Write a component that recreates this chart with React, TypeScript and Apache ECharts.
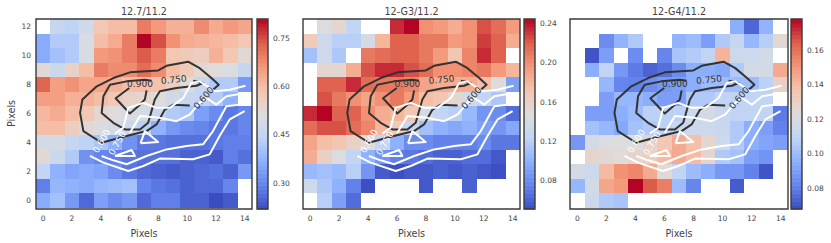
import React, { useEffect, useRef } from "react";
import * as echarts from "echarts";

type N = number | null;
const _ = null;
const titles = ["12.7/11.2", "12-G3/11.2", "12-G4/11.2"];
const xTicks = [0, 2, 4, 6, 8, 10, 12, 14];
const yTicks = [0, 2, 4, 6, 8, 10, 12];
const ranges = [[0.22, 0.81], [0.0506, 0.245], [0.068, 0.178]];
const barTicks = [[0.3, 0.45, 0.6, 0.75], [0.08, 0.12, 0.16, 0.2, 0.24], [0.08, 0.1, 0.12, 0.14, 0.16]];

// rows listed from y = 12 (top) to y = 0 (bottom)
const panelA: N[][] = [
  [_, .46, .44, .48, .58, .60, .60, .70, .66, .62, .62, .68, .63, .66, .64],
  [.36, .42, .42, .50, .60, .63, .70, .81, .75, .67, .63, .62, .61, .60, .58],
  [.36, .40, .42, .50, .66, .67, .70, .74, .70, .58, .57, .56, .62, .58, .53],
  [.53, .47, .55, .60, .70, .68, .68, .72, .68, .60, .57, .53, .52, .51, .46],
  [.73, .65, .67, .64, .64, .62, .60, .60, .59, .56, .52, .46, .42, .42, .33],
  [.65, .65, .62, .62, .60, .58, .55, .54, .52, .48, .46, .45, .42, .37, _],
  [.61, .63, .60, .58, .54, .52, .50, .49, .46, .42, .41, .34, .31, .28, .30],
  [.60, .60, .56, .53, .51, .49, .47, .43, .37, .33, .31, .30, .28, .28, .30],
  [.49, .49, .46, .44, .41, .37, .32, .28, .28, .27, .27, .27, .28, .29, .29],
  [.53, .47, .42, .32, .30, .29, .28, .27, .27, .27, .25, .25, .24, .29, .27],
  [.45, .37, .35, .36, .35, .31, .28, .26, .25, .24, .25, .26, .27, .25, .33],
  [.29, .38, .37, .36, .38, .39, .40, .30, .28, .27, .25, .26, .26, .30, _],
  [.36, .40, .33, .26, .34, .31, .33, .26, .29, .29, .25, .25, .22, .24, _],
];
const panelB: N[][] = [
  [_, .145, .155, .125, _, _, .235, .245, .20, .195, .185, .20, .225, .215, .195],
  [.165, .135, .12, .12, .14, .18, .22, .22, .21, .21, .195, .20, .23, .22, .185],
  [.11, .135, .115, _, .21, .215, .22, .22, .21, .195, .17, .205, .235, .22, _],
  [_, .155, .155, .185, .225, .235, .235, .225, .215, .20, .20, .205, .21, .195, .18],
  [_, .22, .22, .235, .215, .21, .21, .205, .19, .185, .185, .185, .175, .15, .09],
  [_, .225, .21, .20, .19, .20, .21, .195, .175, .17, .155, .14, .125, .115, _],
  [.235, .245, .22, .22, .20, .185, .18, .17, .14, .125, .12, .105, .085, .08, .065],
  [.215, .225, .225, .215, .205, .18, .165, .13, .11, .10, .095, .10, .09, .085, .095],
  [.19, .175, .17, .16, .15, .125, .10, .08, .08, .075, .075, .075, .08, .07, .07],
  [.185, .16, .145, .125, .10, .085, .075, .07, .065, .06, .06, .065, .065, .056, _],
  [.105, .11, .105, .12, .085, .057, .052, .056, .056, .06, .056, .06, .056, .052, _],
  [.135, .115, .10, .075, .052, _, _, _, .056, _, _, .06, _, _, _],
  [_, .12, .09, .065, _, _, _, _, _, _, _, _, _, _, _],
];
const panelC: N[][] = [
  [_, _, _, _, _, _, _, _, _, _, _, .095, .075, .097, _],
  [_, _, .085, .097, .105, _, _, .097, .10, .09, .105, .112, .098, .107, .126],
  [_, .07, .09, _, .085, _, .083, .103, .106, .11, .142, .115, .115, .118, _],
  [_, .095, .11, .088, .08, .074, .077, .085, .095, .095, .093, .105, .118, .118, .145],
  [_, _, .098, .083, .082, .085, .088, .09, .095, .10, .10, .10, .10, .108, .13],
  [_, _, .09, .098, .098, .095, .09, .09, .105, .105, .11, .11, .11, .11, _],
  [_, .09, .09, .095, .10, .108, .108, .108, .115, .118, .112, .11, .11, .11, .08],
  [_, .102, .098, .093, .102, .105, .108, .113, .115, .115, .113, .105, .095, .09, .082],
  [.088, .118, .122, .123, .123, .128, .135, .145, .138, .127, .115, .105, .095, .092, .09],
  [_, .128, .126, .124, .128, .13, .14, .145, .14, .128, .105, .102, .09, .087, _],
  [.118, .115, .14, .152, .155, .145, .125, .11, .10, .095, .088, .088, .082, .07, _],
  [.098, .118, .146, .15, .178, .165, .157, .10, .083, _, _, .072, _, _, _],
  [_, .115, .105, .103, _, _, _, _, _, _, _, _, _, _, _],
];
const panels = [panelA, panelB, panelC];

// contours (x, y in pixels of the map)
const blackOuter = [[11.79, 7.64], [12.19, 7.98], [11.68, 8.44], [10.87, 9.12], [10.06, 9.56], [8.56, 9.28], [7.99, 8.96], [6.02, 8.83], [4.87, 8.44], [3.72, 7.87], [2.72, 6.96], [2.56, 6.04], [2.79, 4.79], [4.06, 3.99], [5.56, 4.40], [7.18, 4.79], [7.87, 5.25], [8.45, 6.27], [9.02, 6.61], [10.18, 6.55]];
const blackMiddle = [[7.52, 8.26], [7.06, 8.32], [5.79, 8.21], [4.64, 7.98], [4.18, 7.18], [4.06, 6.04], [4.87, 5.36], [5.68, 4.90], [6.72, 4.90], [7.29, 5.36], [7.75, 6.96], [8.10, 7.53], [9.25, 7.75], [10.64, 7.91], [11.10, 8.10], [10.41, 8.26]];
const blackInner = [[5.98, 7.75], [5.03, 7.05], [6.02, 6.00], [6.60, 6.50], [7.06, 6.96], [7.18, 7.59]];
const whiteUpper = [[4.98, 4.61], [5.56, 5.02], [5.91, 6.39], [6.95, 6.73], [7.87, 6.39], [8.79, 6.39], [9.72, 7.07], [10.29, 8.10], [10.87, 8.21], [11.91, 7.53], [12.95, 7.64], [14.05, 7.91]];
const whiteSecond = [[6.02, 4.67], [6.72, 5.82], [8.10, 5.70], [9.25, 5.47], [10.18, 5.93], [10.87, 6.73], [11.33, 7.07], [12.02, 6.61], [12.72, 7.18], [14.05, 7.41]];
const whiteLowerOuter = [[3.25, 3.08], [4.18, 2.62], [5.91, 2.05], [6.95, 2.39], [8.10, 2.90], [10.41, 2.85], [11.56, 3.19], [12.25, 4.45], [12.95, 5.59], [13.99, 6.16]];
const whiteLowerInner = [[4.06, 3.08], [4.87, 2.78], [5.79, 2.51], [7.18, 3.08], [8.56, 3.53], [9.95, 3.76], [11.10, 3.88], [11.79, 4.79], [12.72, 6.50], [13.64, 6.61]];
const whiteTriA = [[6.76, 3.95], [7.06, 4.79], [7.98, 4.04], [6.76, 3.95]];
const whiteTriB = [[4.98, 3.08], [6.14, 3.49], [6.37, 3.08], [4.98, 3.08]];
const blackLines = [blackOuter, blackMiddle, blackInner];
const whiteLines = [whiteUpper, whiteSecond, whiteLowerOuter, whiteLowerInner, whiteTriA, whiteTriB];
// x, y, text, angle in degrees, colour
const contourLabels: [number, number, string, number, string][] = [
  [6.72, 8.05, "0.900", 0, "#333333"],
  [9.07, 8.32, "0.750", 6, "#333333"],
  [11.15, 7.07, "0.600", 50, "#333333"],
  [4.06, 4.10, "0.600", 60, "#ffffff"],
  [5.15, 3.95, "0.750", 60, "#ffffff"],
];

const cool: [number, number[]][] = [
  [0, [59, 76, 192]], [0.125, [98, 130, 234]], [0.25, [141, 176, 254]], [0.375, [192, 212, 245]], [0.5, [221, 221, 221]],
  [0.625, [245, 196, 173]], [0.75, [244, 152, 122]], [0.875, [222, 97, 77]], [1, [180, 4, 38]],
];
function coolwarm(t: number) {
  const v = Math.max(0, Math.min(1, t));
  for (let i = 1; i < cool.length; i++) {
    if (v <= cool[i][0]) {
      const [a, ca] = cool[i - 1];
      const [b, cb] = cool[i];
      const f = (v - a) / (b - a);
      return `rgb(${ca.map((c, k) => Math.round(c + (cb[k] - c) * f)).join(",")})`;
    }
  }
  return "rgb(180,4,38)";
}

const mapBoxes = [
  { left: 36, width: 216 },
  { left: 303, width: 217 },
  { left: 570, width: 218 },
];
const barBoxes = [
  { left: 257, width: 11 },
  { left: 524, width: 11 },
  { left: 791, width: 11 },
];
const TOP = 19;
const HEIGHT = 190;
const FONT = "DejaVu Sans";
const TEXT = "#444444";
const LEVELS = 48;

function buildOption() {
  const grid: any[] = [], xAxis: any[] = [], yAxis: any[] = [], series: any[] = [], title: any[] = [], graphic: any[] = [];
  panels.forEach((rows, p) => {
    const [lo, hi] = ranges[p];
    const g = p * 2;
    grid.push({ left: mapBoxes[p].left, width: mapBoxes[p].width, top: TOP, height: HEIGHT });
    grid.push({ left: barBoxes[p].left, width: barBoxes[p].width, top: TOP, height: HEIGHT });
    title.push({
      text: titles[p], left: mapBoxes[p].left + mapBoxes[p].width / 2, top: 6, padding: 0, textAlign: "center",
      textStyle: { fontFamily: FONT, fontSize: 9.6, fontWeight: "normal", color: TEXT },
    });
    xAxis.push({
      gridIndex: g, type: "value", min: -0.5, max: 14.5, name: "Pixels", nameLocation: "middle", nameGap: 20,
      nameTextStyle: { fontFamily: FONT, fontSize: 9.6, color: TEXT },
      axisLine: { show: false }, axisTick: { show: false }, splitLine: { show: false },
      axisLabel: { customValues: xTicks, fontFamily: FONT, fontSize: 7.5, color: TEXT, margin: 6 },
    });
    yAxis.push({
      gridIndex: g, type: "value", min: -0.5, max: 12.5,
      name: p === 0 ? "Pixels" : "", nameLocation: "middle", nameGap: 20,
      nameTextStyle: { fontFamily: FONT, fontSize: 9.6, color: TEXT },
      axisLine: { show: false }, axisTick: { show: false }, splitLine: { show: false },
      axisLabel: p === 0
        ? { customValues: yTicks, fontFamily: FONT, fontSize: 7.5, color: TEXT, margin: 5 }
        : { show: false },
    });
    xAxis.push({ gridIndex: g + 1, type: "value", min: 0, max: 1, show: false });
    yAxis.push({
      gridIndex: g + 1, type: "value", position: "right", min: lo, max: hi,
      axisLine: { show: false }, axisTick: { show: false }, splitLine: { show: false },
      axisLabel: {
        customValues: barTicks[p], fontFamily: FONT, fontSize: 7.5, color: TEXT, margin: 5,
        formatter: (v: number) => v.toFixed(2),
      },
    });

    const cells: number[][] = [];
    rows.forEach((row, r) => row.forEach((v, x) => { if (v !== null) cells.push([x, 12 - r, v]); }));
    series.push({
      type: "custom", xAxisIndex: g, yAxisIndex: g, data: cells, silent: true, z: 1, clip: true,
      encode: { x: 0, y: 1 },
      renderItem: (_p: any, api: any) => {
        const x = api.value(0), y = api.value(1), v = api.value(2);
        const a = api.coord([x - 0.5, y + 0.5]);
        const b = api.coord([x + 0.5, y - 0.5]);
        const x0 = Math.round(a[0]), y0 = Math.round(a[1]);
        return {
          type: "rect", shape: { x: x0, y: y0, width: Math.round(b[0]) - x0, height: Math.round(b[1]) - y0 },
          style: { fill: coolwarm((v - lo) / (hi - lo)), stroke: null },
        };
      },
    });

    const levelData: number[][] = [];
    for (let i = 0; i < LEVELS; i++) levelData.push([lo + ((hi - lo) * i) / LEVELS, lo + ((hi - lo) * (i + 1)) / LEVELS]);
    series.push({
      type: "custom", xAxisIndex: g + 1, yAxisIndex: g + 1, data: levelData, silent: true, z: 1,
      encode: { y: [0, 1] },
      renderItem: (_p: any, api: any) => {
        const a = api.coord([0, api.value(1)]);
        const b = api.coord([1, api.value(0)]);
        const mid = (api.value(0) + api.value(1)) / 2;
        return {
          type: "rect", shape: { x: a[0], y: a[1], width: b[0] - a[0], height: b[1] - a[1] + 0.5 },
          style: { fill: coolwarm((mid - lo) / (hi - lo)), stroke: null },
        };
      },
    });

    const addLines = (lines: number[][][], color: string) =>
      lines.forEach((d) =>
        series.push({
          type: "line", xAxisIndex: g, yAxisIndex: g, data: d, showSymbol: false, symbol: "none", silent: true, z: 3,
          lineStyle: { color, width: 2, join: "round" }, clip: true,
        }),
      );
    addLines(blackLines, "#333333");
    addLines(whiteLines, "#ffffff");

    series.push({
      type: "custom", xAxisIndex: g, yAxisIndex: g, silent: true, z: 4,
      data: contourLabels.map((l) => [l[0], l[1], l[3]]),
      encode: { x: 0, y: 1 },
      renderItem: (params: any, api: any) => {
        const c = api.coord([api.value(0), api.value(1)]);
        const l = contourLabels[params.dataIndex];
        return {
          type: "text", x: c[0], y: c[1], rotation: (l[3] * Math.PI) / 180,
          style: { text: l[2], fill: l[4], font: `9px "${FONT}"`, textAlign: "center", textVerticalAlign: "middle" },
        };
      },
    });

    [mapBoxes[p], barBoxes[p]].forEach((b) =>
      graphic.push({
        type: "rect", z: 100, silent: true,
        shape: { x: b.left, y: TOP, width: b.width, height: HEIGHT },
        style: { fill: "none", stroke: "#3a3a3a", lineWidth: 1.4 },
      }),
    );
  });
  return { animation: false, backgroundColor: "#ffffff", title, grid, xAxis, yAxis, series, graphic };
}

export default function App() {
  const ref = useRef<HTMLDivElement>(null);
  useEffect(() => {
    const chart = echarts.init(ref.current!, undefined, { renderer: "svg" });
    chart.setOption(buildOption() as any);
    return () => chart.dispose();
  }, []);
  return <div ref={ref} style={{ position: "fixed", left: 0, top: 0, width: 831, height: 243 }} />;
}
